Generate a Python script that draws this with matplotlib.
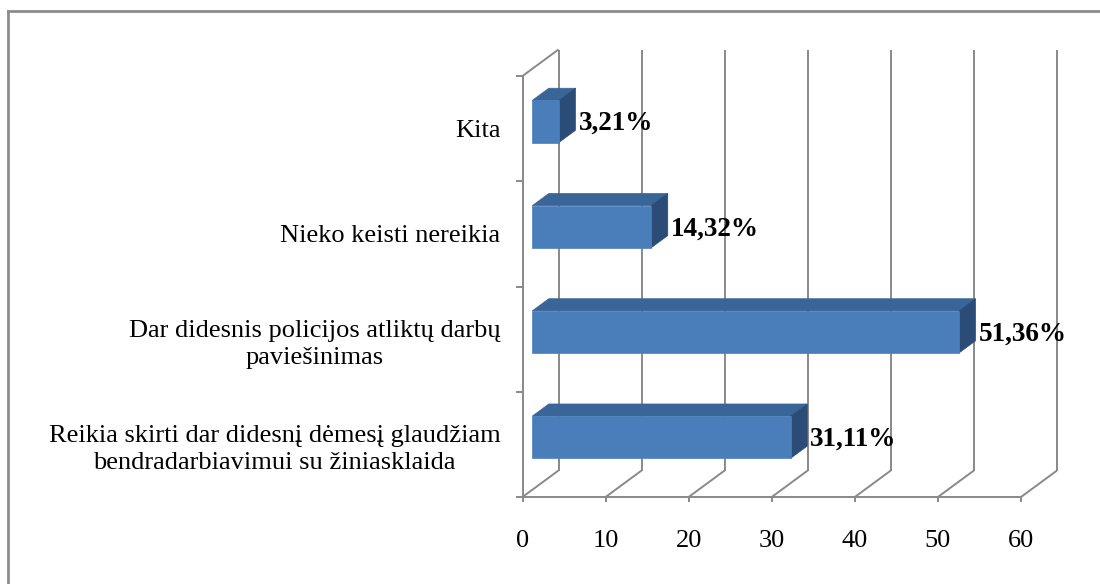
#!/usr/bin/env python3
import matplotlib

matplotlib.use("Agg")

import matplotlib.pyplot as plt
import numpy as np
from matplotlib.lines import Line2D
from matplotlib.patches import Polygon
from matplotlib.transforms import IdentityTransform

categories = [
    "Reikia skirti dar didesnį dėmesį glaudžiam\nbendradarbiavimui su žiniasklaida",
    "Dar didesnis policijos atliktų darbų\npaviešinimas",
    "Nieko keisti nereikia",
    "Kita",
]
values = [31.11, 51.36, 14.32, 3.21]
value_labels = ["31,11%", "51,36%", "14,32%", "3,21%"]
x_ticks = [0, 10, 20, 30, 40, 50, 60]

GRID = "#898989"
FRONT = "#4A7EBB"
TOP = "#3A6598"
SIDE = "#2A4C76"
FONT = "Liberation Serif"

# wall depth in pixels (dpi=100)
DEPTH = np.array([36.0, 26.5])
BAR_FRONT, BAR_BACK = 0.27, 0.73
BAR_H = 0.4

fig = plt.figure(figsize=(11, 5.84), dpi=100)
ax = fig.add_axes([522.5 / 1100, 87 / 584, 498.5 / 1100, 421 / 584])
ax.set_xlim(0, 60)
ax.set_ylim(0, 4)
for s in ax.spines.values():
    s.set_visible(False)
ax.patch.set_visible(False)


def proj(x, y, d):
    return ax.transData.transform((x, y)) + d * DEPTH


def seg(p, q):
    ax.add_line(Line2D([p[0], q[0]], [p[1], q[1]], transform=IdentityTransform(),
                       color=GRID, lw=1.4, solid_capstyle="butt", clip_on=False))


n = len(categories)
# back wall gridlines and floor
for x in x_ticks:
    seg(proj(x, 0, 1), proj(x, n, 1))
    seg(proj(x, 0, 0), proj(x, 0, 1))
    p = proj(x, 0, 0)
    seg(p, p + np.array([0, -5]))
seg(proj(0, 0, 0), proj(60, 0, 0))
seg(proj(0, 0, 0), proj(0, n, 0))
seg(proj(0, n, 0), proj(0, n, 1))
for k in range(n + 1):
    p = proj(0, k, 0)
    seg(p, p + np.array([-7, 0]))

# 3d bars
for i, v in enumerate(values):
    y0, y1 = i + 0.5 - BAR_H / 2, i + 0.5 + BAR_H / 2
    front = [proj(0, y0, BAR_FRONT), proj(v, y0, BAR_FRONT), proj(v, y1, BAR_FRONT), proj(0, y1, BAR_FRONT)]
    top = [proj(0, y1, BAR_FRONT), proj(v, y1, BAR_FRONT), proj(v, y1, BAR_BACK), proj(0, y1, BAR_BACK)]
    side = [proj(v, y0, BAR_FRONT), proj(v, y0, BAR_BACK), proj(v, y1, BAR_BACK), proj(v, y1, BAR_FRONT)]
    for pts, c in [(top, TOP), (side, SIDE), (front, FRONT)]:
        ax.add_patch(Polygon(pts, closed=True, transform=IdentityTransform(),
                             facecolor=c, edgecolor=c, lw=0.5, zorder=3, clip_on=False))
    tx, ty = proj(v, i + 0.5, BAR_FRONT)
    ax.text(tx + (BAR_BACK - BAR_FRONT) * DEPTH[0] + 3, ty - 2, value_labels[i],
            transform=IdentityTransform(), ha="left", va="center",
            fontsize=19.5, fontweight="bold", family=FONT, zorder=4)

ax.set_xticks(x_ticks)
ax.set_xticklabels([str(t) for t in x_ticks], family=FONT, fontsize=19)
ax.set_yticks(np.arange(n) + 0.5)
ax.set_yticklabels(categories, family=FONT, fontsize=19)
for lab in ax.get_yticklabels():
    lab.set_multialignment("center")
    lab.set_linespacing(1.3)
ax.tick_params(axis="x", length=0, pad=24)
ax.tick_params(axis="y", length=0, pad=16)

# chart frame
fig.add_artist(Line2D([8 / 1100, 8 / 1100], [0, 1 - 11 / 584], transform=fig.transFigure, color="#8C8C8C", lw=2))
fig.add_artist(Line2D([8 / 1100, 1], [1 - 11 / 584, 1 - 11 / 584], transform=fig.transFigure, color="#8C8C8C", lw=2))

fig.savefig("out.png", dpi=100)
